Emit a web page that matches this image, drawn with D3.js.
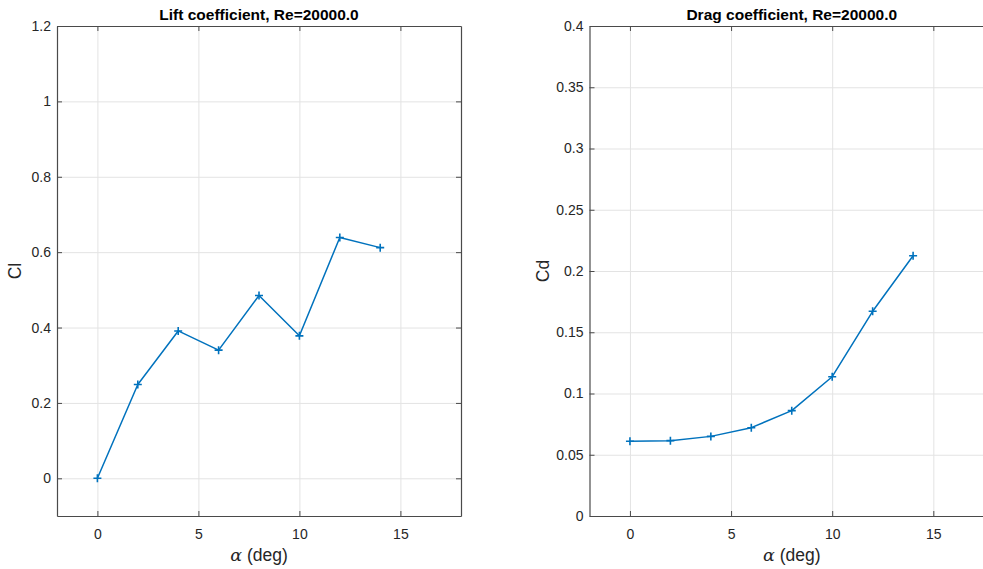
<!DOCTYPE html>
<html>
<head>
<meta charset="utf-8">
<script src="https://cdn.jsdelivr.net/npm/d3@7"></script>
<style>
  body { margin: 0; background: #fff; }
  svg { display: block; font-family: "Liberation Sans", Arial, Helvetica, sans-serif; }
</style>
</head>
<body>
<svg id="chart" width="983" height="569"></svg>
<script>
// angle of attack (deg)
const alphaDeg = [0, 2, 4, 6, 8, 10, 12, 14];

// lift / drag coefficients
const liftCoef = [0.0, 0.249, 0.391, 0.340, 0.485, 0.378, 0.639, 0.612];
const dragCoef = [0.0610, 0.0615, 0.0650, 0.0721, 0.0860, 0.1137, 0.1671, 0.2125];

const xTicks = [0, 5, 10, 15];
const liftTicks = [0, 0.2, 0.4, 0.6, 0.8, 1, 1.2];
const liftTickLabels = ['0', '0.2', '0.4', '0.6', '0.8', '1', '1.2'];
const dragTicks = [0, 0.05, 0.1, 0.15, 0.2, 0.25, 0.3, 0.35, 0.4];
const dragTickLabels = ['0', '0.05', '0.1', '0.15', '0.2', '0.25', '0.3', '0.35', '0.4'];

const LINE = '#0072BD';
const AXIS = '#4a4a4a';
const TEXT = '#262626';
const GRID = '#e3e3e3';
const TICK = 5;

const svg = d3.select('#chart');

function drawPanel(opts) {
  const { left, right, top, bottom, xDomain, yDomain, values, yTicks, yTickLabels, title, ylabel, ylabelX } = opts;
  const iW = right - left;
  const iH = bottom - top;

  const x = d3.scaleLinear().domain(xDomain).range([0, iW]);
  const y = d3.scaleLinear().domain(yDomain).range([iH, 0]);

  const g = svg.append('g').attr('transform', `translate(${left},${top})`);

  // grid
  g.append('g')
    .call(d3.axisBottom(x).tickValues(xTicks).tickSize(iH).tickFormat(''))
    .call((a) => a.select('.domain').remove())
    .call((a) => a.selectAll('line').attr('stroke', GRID).attr('stroke-width', 1));
  g.append('g')
    .call(d3.axisLeft(y).tickValues(yTicks).tickSize(-iW).tickFormat(''))
    .call((a) => a.select('.domain').remove())
    .call((a) => a.selectAll('line').attr('stroke', GRID).attr('stroke-width', 1));

  // data line
  const pts = alphaDeg.map((a, i) => [a, values[i]]);
  g.append('path')
    .datum(pts)
    .attr('fill', 'none')
    .attr('stroke', LINE)
    .attr('stroke-width', 1.5)
    .attr('stroke-linejoin', 'round')
    .attr('d', d3.line().x((d) => x(d[0])).y((d) => y(d[1])));

  // '+' markers
  g.selectAll(null)
    .data(pts)
    .join('path')
    .attr('transform', (d) => `translate(${x(d[0])},${y(d[1])})`)
    .attr('d', 'M-4,0H4M0,-4V4')
    .attr('stroke', LINE)
    .attr('stroke-width', 1.6)
    .attr('fill', 'none');

  const styleAxis = (a) => {
    a.select('.domain').attr('stroke', AXIS).attr('stroke-width', 1.2);
    a.selectAll('line').attr('stroke', AXIS).attr('stroke-width', 1);
  };

  // box with inward ticks
  g.append('g')
    .attr('transform', `translate(0,${iH})`)
    .call(d3.axisBottom(x).tickValues(xTicks).tickSizeInner(-TICK).tickSizeOuter(0).tickPadding(13))
    .call(styleAxis)
    .call((a) => a.selectAll('text').attr('fill', TEXT).attr('font-size', 14));
  g.append('g')
    .call(d3.axisTop(x).tickValues(xTicks).tickSizeInner(-TICK).tickSizeOuter(0).tickFormat(''))
    .call(styleAxis);
  g.append('g')
    .call(d3.axisLeft(y).tickValues(yTicks).tickSizeInner(-TICK).tickSizeOuter(0).tickPadding(6)
      .tickFormat((d, i) => yTickLabels[i]))
    .call(styleAxis)
    .call((a) => a.selectAll('text').attr('fill', TEXT).attr('font-size', 14));
  g.append('g')
    .attr('transform', `translate(${iW},0)`)
    .call(d3.axisRight(y).tickValues(yTicks).tickSizeInner(-TICK).tickSizeOuter(0).tickFormat(''))
    .call(styleAxis);

  // title
  g.append('text')
    .attr('x', iW / 2)
    .attr('y', -6)
    .attr('text-anchor', 'middle')
    .attr('fill', '#000')
    .attr('font-size', 15.5)
    .attr('font-weight', 'bold')
    .text(title);

  // x label
  const xl = g.append('text')
    .attr('x', iW / 2)
    .attr('y', iH + 45)
    .attr('text-anchor', 'middle')
    .attr('fill', TEXT)
    .attr('font-size', 17.5);
  xl.append('tspan')
    .attr('font-family', '"DejaVu Serif", "Liberation Serif", serif')
    .attr('font-style', 'italic')
    .text('α');
  xl.append('tspan').text(' (deg)');

  // y label
  svg.append('text')
    .attr('transform', `translate(${ylabelX},${top + iH / 2}) rotate(-90)`)
    .attr('text-anchor', 'middle')
    .attr('fill', TEXT)
    .attr('font-size', 17.5)
    .text(ylabel);
}

drawPanel({
  left: 57, right: 461, top: 26, bottom: 516,
  xDomain: [-2, 18], yDomain: [-0.1, 1.2],
  values: liftCoef, yTicks: liftTicks, yTickLabels: liftTickLabels,
  title: 'Lift coefficient, Re=20000.0', ylabel: 'Cl', ylabelX: 21
});

drawPanel({
  left: 589.5, right: 994, top: 26, bottom: 516,
  xDomain: [-2, 18], yDomain: [0, 0.4],
  values: dragCoef, yTicks: dragTicks, yTickLabels: dragTickLabels,
  title: 'Drag coefficient, Re=20000.0', ylabel: 'Cd', ylabelX: 549
});
</script>
</body>
</html>
